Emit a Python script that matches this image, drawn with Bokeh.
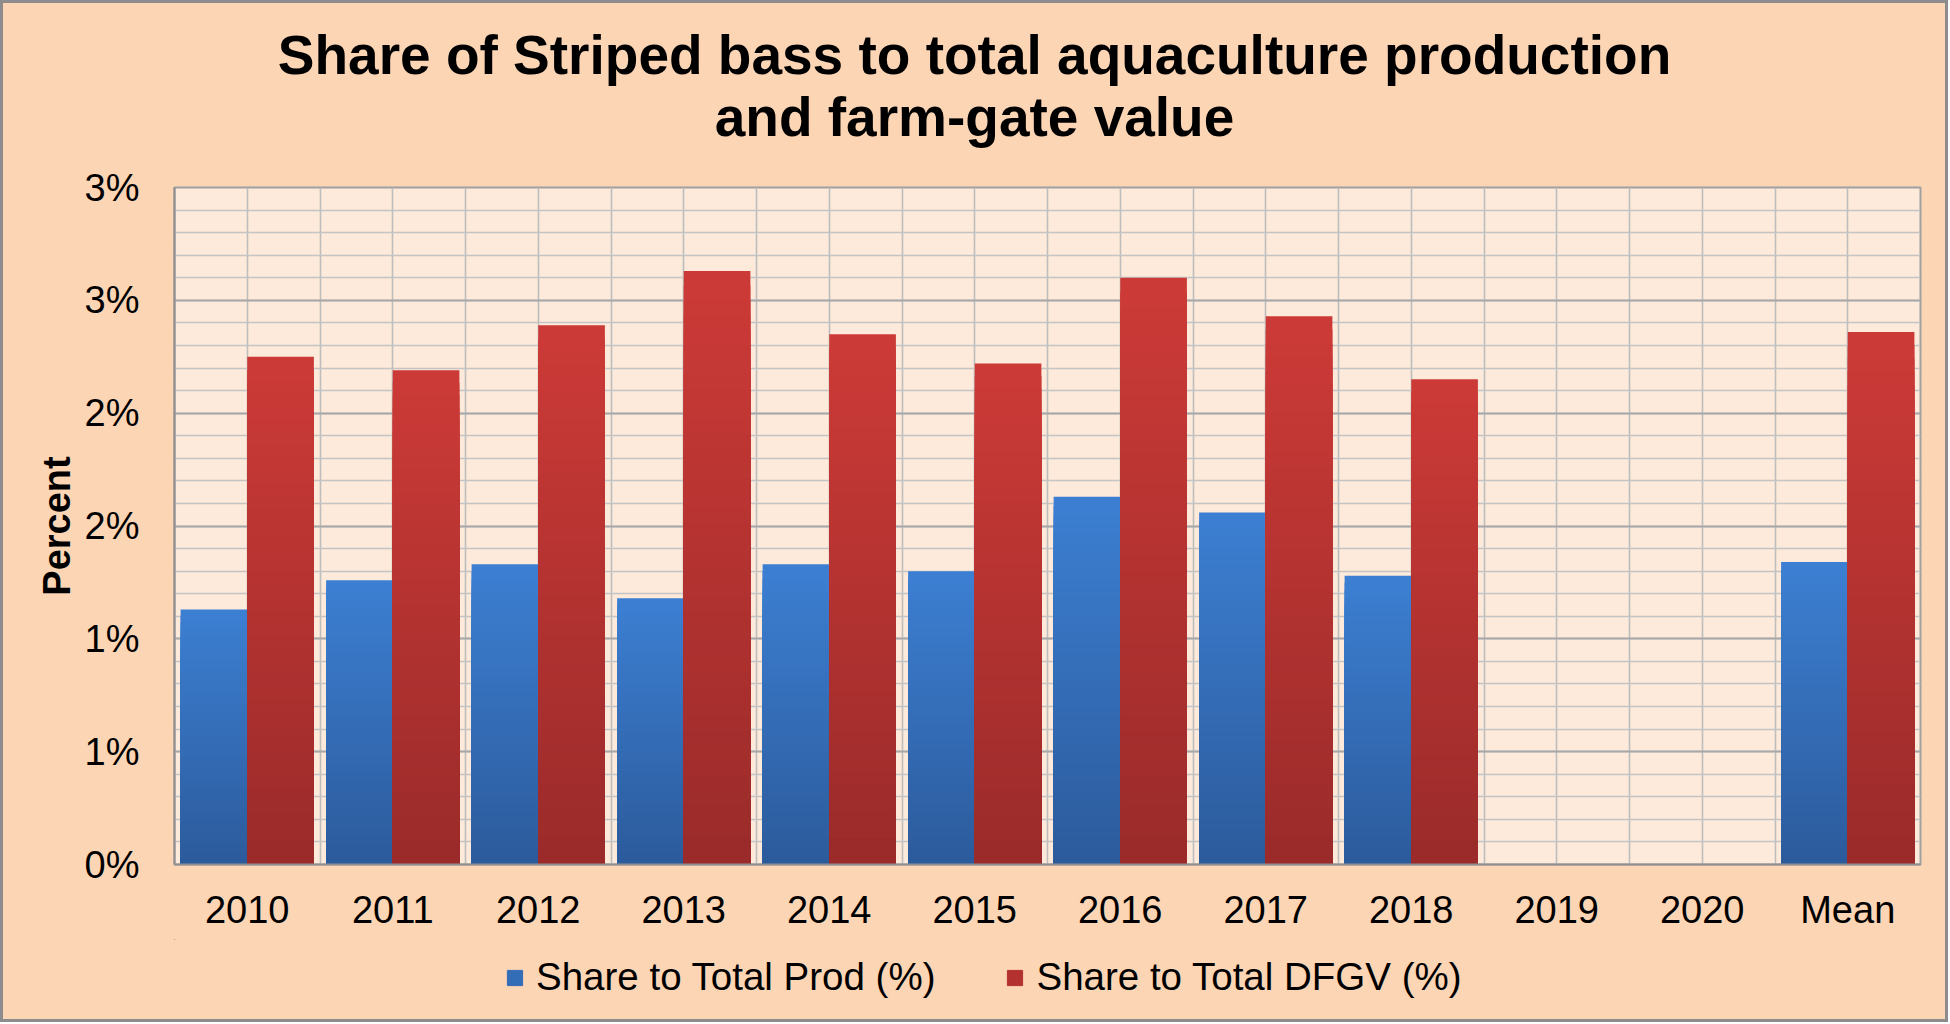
from bokeh.plotting import figure
from bokeh.layouts import column
from bokeh.models import (FactorRange, Range1d, FixedTicker, Legend, LegendItem, Label,
                          ColumnDataSource)
from bokeh.transform import dodge
from bokeh.embed import file_html
from bokeh.resources import INLINE

# ---------------- data ----------------
categories = ["2010", "2011", "2012", "2013", "2014", "2015", "2016", "2017", "2018", "2019", "2020", "Mean"]
share_prod = [1.13, 1.26, 1.33, 1.18, 1.33, 1.30, 1.63, 1.56, 1.28, None, None, 1.34]
share_dfgv = [2.25, 2.19, 2.39, 2.63, 2.35, 2.22, 2.60, 2.43, 2.15, None, None, 2.36]
series_names = ["Share to Total Prod (%)", "Share to Total DFGV (%)"]
y_tick_values = [0, 0.5, 1.0, 1.5, 2.0, 2.5, 3.0]
y_tick_labels = ["0%", "1%", "1%", "2%", "2%", "3%", "3%"]
title_line1 = "Share of Striped bass to total aquaculture production"
title_line2 = "and farm-gate value"
y_axis_title = "Percent"

FONT = "Liberation Sans"
OUTER_BG = "#FCD5B5"
PLOT_BG = "#FDEADA"
BLUE_TOP, BLUE_BOT = (60, 127, 210), (44, 91, 156)
RED_TOP, RED_BOT = (204, 58, 55), (154, 43, 42)
N_BANDS = 40

BORDER = 3
W_IN = 1942          # inner width (inside border)
H_TITLE = 150
H_MAIN = 786
H_LEG = 80
FRAME_L = 174        # page x of plot-area left edge
BORDER_L = FRAME_L - BORDER
BORDER_R = 25
FRAME_R = BORDER + W_IN - BORDER_R


def hexcol(c):
    return "#%02x%02x%02x" % tuple(int(round(v)) for v in c)


def blank_fig(h):
    # frames of plots in a column are aligned, so x is mapped in page pixels
    f = figure(width=W_IN, height=h, x_range=Range1d(FRAME_L, FRAME_R), y_range=Range1d(h, 0),
               x_axis_type=None, y_axis_type=None, output_backend="svg",
               toolbar_location=None, title=None, min_border=0)
    f.background_fill_color = OUTER_BG
    f.border_fill_color = OUTER_BG
    f.outline_line_color = None
    f.grid.visible = False
    return f


# ---------------- title ----------------
pt = blank_fig(H_TITLE)
for txt, yy in ((title_line1, 51), (title_line2, 113)):
    pt.add_layout(Label(x=974, y=yy, text=txt, text_align="center", text_baseline="middle",
                        text_font=FONT, text_font_size="55px", text_font_style="bold",
                        text_color="black"))

# ---------------- main chart ----------------
p = figure(
    width=W_IN, height=H_MAIN,
    x_range=FactorRange(*categories, range_padding=0),
    y_range=Range1d(0, 3),
    output_backend="svg", toolbar_location=None, title=None,
    min_border_left=BORDER_L, min_border_right=BORDER_R, min_border_top=34, min_border_bottom=75,
)
p.background_fill_color = PLOT_BG
p.border_fill_color = OUTER_BG
p.outline_line_color = "#A0A0A0"
p.outline_line_width = 2


def draw_series(vals, offset, top_c, bot_c):
    """Vertical gradient: nested bars drawn tallest first, each shorter one on top."""
    cats = [c for c, v in zip(categories, vals) if v is not None]
    vs = [v for v in vals if v is not None]
    for k in range(N_BANDS - 1, -1, -1):
        t = k / (N_BANDS - 1)
        col = hexcol([b + (a - b) * t for a, b in zip(top_c, bot_c)])
        src = ColumnDataSource(dict(x=cats, top=[v * (k + 1) / N_BANDS for v in vs]))
        p.vbar(x=dodge("x", offset, range=p.x_range), width=0.458, bottom=0, top="top",
               source=src, fill_color=col, line_color=None)


draw_series(share_prod, -0.229, BLUE_TOP, BLUE_BOT)
draw_series(share_dfgv, 0.229, RED_TOP, RED_BOT)

# grids
p.xgrid.ticker = FixedTicker(ticks=[i * 0.5 for i in range(2 * len(categories) + 1)])
p.xgrid.grid_line_color = "#BDBDBD"
p.xgrid.grid_line_width = 1.6
p.yaxis.ticker = FixedTicker(ticks=y_tick_values, minor_ticks=[i / 10 for i in range(31)])
p.ygrid.grid_line_color = "#A8A8A8"
p.ygrid.grid_line_width = 1.8
p.ygrid.minor_grid_line_color = "#C4C4C4"
p.ygrid.minor_grid_line_width = 1.6
p.ygrid.level = "underlay"
p.xgrid.level = "underlay"

# axes
p.yaxis.major_label_overrides = dict(zip(y_tick_values, y_tick_labels))
for ax in (p.xaxis[0], p.yaxis[0]):
    ax.major_tick_out = 0
    ax.major_tick_in = 0
    ax.minor_tick_out = 0
    ax.minor_tick_in = 0
    ax.axis_line_color = "#909090"
    ax.axis_line_width = 2
    ax.major_label_text_font = FONT
    ax.major_label_text_font_size = "38px"
    ax.major_label_text_color = "black"
p.xaxis.major_label_standoff = 24
p.yaxis.major_label_standoff = 35
p.yaxis.axis_label = y_axis_title
p.yaxis.axis_label_text_font = FONT
p.yaxis.axis_label_text_font_size = "38px"
p.yaxis.axis_label_text_font_style = "bold"
p.yaxis.axis_label_text_color = "black"
p.yaxis.axis_label_standoff = 4

# ---------------- legend ----------------
pl = blank_fig(H_LEG)
blue_mid = hexcol([(a + b) / 2 for a, b in zip(BLUE_TOP, BLUE_BOT)])
red_mid = hexcol([(a + b) / 2 for a, b in zip(RED_TOP, RED_BOT)])
# zero-height proxies (outside the visible range) that only lend their colours to the legend
rb = pl.vbar(x=[-1000], bottom=[0], top=[0], width=1, fill_color=blue_mid, line_color=blue_mid)
rr = pl.vbar(x=[-1000], bottom=[0], top=[0], width=1, fill_color=red_mid, line_color=red_mid)
legend = Legend(
    items=[LegendItem(label=series_names[0], renderers=[rb]),
           LegendItem(label=series_names[1], renderers=[rr])],
    orientation="horizontal", location=(505 - FRAME_L, 20),
    glyph_width=19, glyph_height=19, label_standoff=12, spacing=70,
    padding=0, margin=0, border_line_alpha=0, background_fill_alpha=0,
    label_text_font=FONT, label_text_font_size="38.5px", label_text_color="black",
)
pl.add_layout(legend, "center")

layout = column(pt, p, pl, width=W_IN + 2 * BORDER, height=1022, spacing=0)
layout.styles = {"border": "3px solid #8c8c8c", "box-sizing": "border-box",
                 "background-color": OUTER_BG}

open("out.html", "w").write(file_html(layout, INLINE))
